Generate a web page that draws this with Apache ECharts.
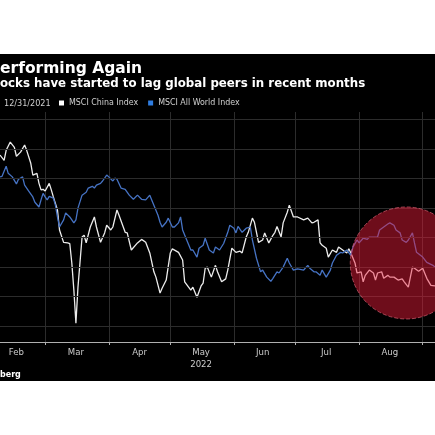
<!DOCTYPE html>
<html lang="en">
<head>
    <meta charset="UTF-8">
    <title>Underperforming Again</title>
    <script src="https://cdn.jsdelivr.net/npm/echarts@6.0.0/dist/echarts.min.js"></script>
    <style type="text/css">
        *{
            padding: 0px;
            margin: 0px;
            border: 0px;
        }
        body{
            background: #ffffff;
            width: 435px;
            height: 435px;
            position: relative;
        }
        #chart{
            position: absolute;
            left: 0px;
            top: 54px;
            width: 435px;
            height: 327px;
            background: #000000;
        }
    </style>
</head>
<body>
<div id="chart"></div>
<script>

    // MSCI China Index, indexed to 12/31/2021
    var chinaDates = ['2022-02-07','2022-02-09','2022-02-10','2022-02-12','2022-02-14','2022-02-15','2022-02-17','2022-02-19','2022-02-20','2022-02-22',
        '2022-02-23','2022-02-25','2022-02-26','2022-02-27','2022-02-28','2022-03-01','2022-03-03','2022-03-04','2022-03-05','2022-03-07',
        '2022-03-08','2022-03-10','2022-03-12','2022-03-13','2022-03-14','2022-03-15','2022-03-16','2022-03-17','2022-03-19','2022-03-20',
        '2022-03-21','2022-03-23','2022-03-25','2022-03-26','2022-03-28','2022-03-30','2022-03-31','2022-04-02','2022-04-03','2022-04-05',
        '2022-04-06','2022-04-09','2022-04-10','2022-04-12','2022-04-15','2022-04-17','2022-04-19','2022-04-21','2022-04-23','2022-04-24',
        '2022-04-26','2022-04-27','2022-04-29','2022-05-01','2022-05-02','2022-05-05','2022-05-07','2022-05-08','2022-05-11','2022-05-12',
        '2022-05-14','2022-05-16','2022-05-17','2022-05-18','2022-05-19','2022-05-21','2022-05-23','2022-05-24','2022-05-26','2022-05-28',
        '2022-05-29','2022-05-31','2022-06-02','2022-06-04','2022-06-05','2022-06-07','2022-06-08','2022-06-10','2022-06-11','2022-06-13',
        '2022-06-15','2022-06-16','2022-06-18','2022-06-20','2022-06-21','2022-06-22','2022-06-24','2022-06-25','2022-06-27','2022-06-28',
        '2022-06-30','2022-07-02','2022-07-05','2022-07-07','2022-07-09','2022-07-10','2022-07-12','2022-07-13','2022-07-14','2022-07-16',
        '2022-07-17','2022-07-19','2022-07-21','2022-07-22','2022-07-24','2022-07-26','2022-07-27','2022-07-28','2022-07-30','2022-07-31',
        '2022-08-02','2022-08-03','2022-08-04','2022-08-06','2022-08-08','2022-08-09','2022-08-10','2022-08-12','2022-08-13','2022-08-15',
        '2022-08-16','2022-08-18','2022-08-20','2022-08-22','2022-08-23','2022-08-25','2022-08-27','2022-08-28','2022-08-30','2022-09-01',
        '2022-09-03','2022-09-05','2022-09-07'];
    var china = [99.0,98.1,99.8,101.2,100.3,98.8,99.5,100.7,99.8,97.6,
        95.6,95.9,94.2,93.1,93.2,92.9,94.2,93.1,91.9,89.7,
        86.3,84.2,84.1,84.0,80.7,76.1,70.5,76.6,85.1,85.4,
        84.1,86.8,88.5,86.8,84.2,85.8,87.1,86.3,86.8,89.7,
        88.8,85.9,85.8,82.9,84.1,84.7,84.2,82.4,79.2,78.3,
        75.6,76.4,77.8,82.4,83.1,82.5,81.2,77.5,76.1,76.6,
        74.9,76.8,77.3,79.8,80.0,78.3,80.3,79.2,77.5,78.0,
        79.5,83.2,82.5,82.7,82.4,85.1,85.9,88.3,87.6,84.2,
        84.6,85.8,84.1,85.4,85.9,86.9,85.1,87.5,89.3,90.5,
        88.5,88.5,88.0,88.3,87.5,87.6,88.0,84.1,83.7,83.2,
        81.7,82.9,82.5,83.4,82.9,82.4,83.1,82.4,80.7,79.0,
        79.2,77.5,78.6,79.5,79.0,77.8,79.0,79.2,78.1,78.6,
        78.3,78.3,77.8,78.0,77.5,76.6,80.0,79.8,79.3,79.8,
        78.1,76.9,76.8];

    // MSCI All World Index, indexed to 12/31/2021
    var worldDates = ['2022-02-07','2022-02-08','2022-02-10','2022-02-11','2022-02-13','2022-02-15','2022-02-16','2022-02-18','2022-02-19','2022-02-21',
        '2022-02-23','2022-02-24','2022-02-26','2022-02-27','2022-02-28','2022-03-01','2022-03-02','2022-03-03','2022-03-05','2022-03-06',
        '2022-03-07','2022-03-08','2022-03-10','2022-03-11','2022-03-13','2022-03-15','2022-03-16','2022-03-17','2022-03-19','2022-03-21',
        '2022-03-22','2022-03-24','2022-03-25','2022-03-26','2022-03-28','2022-03-29','2022-03-31','2022-04-01','2022-04-03','2022-04-04',
        '2022-04-05','2022-04-07','2022-04-09','2022-04-11','2022-04-13','2022-04-15','2022-04-17','2022-04-19','2022-04-21','2022-04-23',
        '2022-04-25','2022-04-26','2022-04-27','2022-04-29','2022-04-30','2022-05-02','2022-05-03','2022-05-05','2022-05-06','2022-05-07',
        '2022-05-09','2022-05-11','2022-05-12','2022-05-14','2022-05-15','2022-05-17','2022-05-18','2022-05-20','2022-05-22','2022-05-23',
        '2022-05-25','2022-05-27','2022-05-29','2022-05-30','2022-06-01','2022-06-02','2022-06-03','2022-06-05','2022-06-07','2022-06-09',
        '2022-06-10','2022-06-12','2022-06-14','2022-06-15','2022-06-17','2022-06-19','2022-06-20','2022-06-22','2022-06-23','2022-06-25',
        '2022-06-27','2022-06-28','2022-06-30','2022-07-02','2022-07-05','2022-07-07','2022-07-08','2022-07-10','2022-07-11','2022-07-13',
        '2022-07-14','2022-07-16','2022-07-18','2022-07-19','2022-07-21','2022-07-23','2022-07-24','2022-07-26','2022-07-28','2022-07-29',
        '2022-07-31','2022-08-01','2022-08-03','2022-08-05','2022-08-06','2022-08-08','2022-08-10','2022-08-11','2022-08-13','2022-08-15',
        '2022-08-16','2022-08-18','2022-08-19','2022-08-21','2022-08-22','2022-08-24','2022-08-25','2022-08-27','2022-08-28','2022-08-29',
        '2022-09-01','2022-09-03','2022-09-06','2022-09-07'];
    var world = [95.3,95.4,97.1,95.9,95.3,94.1,94.9,95.3,93.9,92.9,
        91.9,91.0,90.2,91.4,92.5,91.9,91.4,92.0,91.7,90.5,
        88.5,86.8,88.0,89.2,88.5,87.5,88.0,90.0,92.2,92.7,
        93.4,93.7,93.4,93.9,94.2,94.6,95.6,95.3,94.6,95.1,
        94.9,93.4,93.2,92.2,91.5,92.2,91.5,91.4,92.2,90.5,
        88.8,87.6,86.8,87.6,88.3,86.8,86.8,87.5,88.5,86.3,
        84.6,82.9,82.9,81.7,83.2,83.7,84.9,82.9,82.4,83.4,
        82.9,84.0,85.9,87.1,86.6,85.8,86.9,85.9,86.6,86.8,
        84.6,81.5,79.2,79.5,78.3,77.6,78.1,79.2,79.0,80.0,
        81.5,80.7,79.5,79.7,79.5,80.3,79.8,79.2,79.2,78.6,
        79.5,78.3,79.5,80.7,82.0,82.5,82.4,82.9,82.0,83.4,
        84.6,84.1,84.9,84.7,85.1,85.1,85.1,86.3,86.8,87.3,
        87.5,87.1,86.3,85.8,84.6,84.2,84.6,85.8,84.1,82.5,
        81.7,80.8,80.3,80.0];

    // x axis: month labels sit in the middle of each month
    var labelDates = ['2022-02-15','2022-03-16','2022-04-16','2022-05-16','2022-06-15','2022-07-16','2022-08-16'];
    var monthLabels = ['Feb','Mar','Apr','May\n2022','Jun','Jul','Aug'];
    // y axis grid values
    var gridValues = [70, 75, 80, 85, 90, 95, 100, 105];
    // highlighted recent months
    var circleAt = ['2022-08-24', 80.7];

    // every calendar day on the axis
    var days = [];
    for (var t = Date.UTC(2022, 1, 7); t <= Date.UTC(2022, 8, 7); t += 86400000) {
        days.push(new Date(t).toISOString().slice(0, 10));
    }

    function isMonthStart(index, value) {
        return value.slice(8, 10) === '01';
    }

    var condensed = '"DejaVu Sans Condensed", "DejaVu Sans", sans-serif';

    var option = {
        backgroundColor: '#000000',
        animation: false,
        grid: {
            left: 0,
            right: 0,
            top: 58,
            bottom: 39
        },
        legend: {
            left: 59,
            top: 44,
            padding: 0,
            icon: 'rect',
            itemWidth: 5,
            itemHeight: 5,
            itemGap: 10,
            data: [
                {name: 'MSCI China Index', itemStyle: {color: '#ffffff'}},
                {name: 'MSCI All World Index', itemStyle: {color: '#2f7de0'}}
            ],
            textStyle: {
                color: '#d0d0d0',
                fontSize: 8.8,
                lineHeight: 10,
                fontFamily: condensed
            }
        },
        graphic: [
            {type: 'text', x: 0, y: 15, style: {text: 'erforming Again', fill: '#ffffff',
                font: 'bold 15.5px "DejaVu Sans", sans-serif', textVerticalAlign: 'middle'}},
            {type: 'text', x: 0, y: 30, style: {text: 'ocks have started to lag global peers in recent months', fill: '#ffffff',
                font: 'bold 11.8px "DejaVu Sans", sans-serif', textVerticalAlign: 'middle'}},
            {type: 'text', x: 4, y: 49.5, style: {text: '12/31/2021', fill: '#d0d0d0',
                font: '9px ' + condensed, textVerticalAlign: 'middle'}},
            {type: 'text', x: 0, y: 321, style: {text: 'berg', fill: '#ffffff',
                font: 'bold 8px "DejaVu Sans", sans-serif', textVerticalAlign: 'middle'}}
        ],
        xAxis: {
            type: 'category',
            data: days,
            boundaryGap: false,
            axisLine: {lineStyle: {color: '#b0b0b0', width: 1}},
            axisTick: {show: true, interval: isMonthStart, length: 3, lineStyle: {color: '#b0b0b0'}},
            splitLine: {show: true, interval: isMonthStart, lineStyle: {color: '#2c2c2c', width: 1}},
            axisLabel: {
                interval: function (index, value) {
                    return labelDates.indexOf(value) >= 0;
                },
                formatter: function (value) {
                    return monthLabels[labelDates.indexOf(value)];
                },
                margin: 4,
                color: '#cccccc',
                fontSize: 9.5,
                lineHeight: 12.5,
                fontFamily: condensed
            }
        },
        yAxis: {
            type: 'value',
            min: 67.3,
            max: 106.3,
            axisLine: {show: false},
            axisTick: {show: false},
            axisLabel: {show: false},
            splitLine: {show: false}
        },
        series: [
            {
                name: 'grid',
                type: 'line',
                data: [],
                z: 1,
                silent: true,
                markLine: {
                    silent: true,
                    symbol: ['none', 'none'],
                    label: {show: false},
                    lineStyle: {color: '#2c2c2c', type: 'solid', width: 1},
                    data: gridValues.map(function (v) { return {yAxis: v}; })
                }
            },
            {
                name: 'MSCI China Index',
                type: 'line',
                z: 3,
                showSymbol: false,
                data: chinaDates.map(function (d, i) { return [d, china[i]]; }),
                lineStyle: {color: '#ececec', width: 1.3},
                itemStyle: {color: '#ececec'}
            },
            {
                name: 'MSCI All World Index',
                type: 'line',
                z: 3,
                showSymbol: false,
                data: worldDates.map(function (d, i) { return [d, world[i]]; }),
                lineStyle: {color: '#4673c4', width: 1.3},
                itemStyle: {color: '#4673c4'}
            },
            {
                name: 'highlight',
                type: 'scatter',
                z: 10,
                silent: true,
                symbol: 'circle',
                symbolSize: 112,
                data: [circleAt],
                itemStyle: {
                    color: 'rgba(240, 28, 58, 0.46)',
                    borderColor: 'rgba(235, 110, 130, 0.6)',
                    borderWidth: 1,
                    borderType: 'dashed',
                    opacity: 1
                }
            }
        ]
    };

    var chart = echarts.init(document.getElementById('chart'));
    chart.setOption(option);

</script>
</body>
</html>
